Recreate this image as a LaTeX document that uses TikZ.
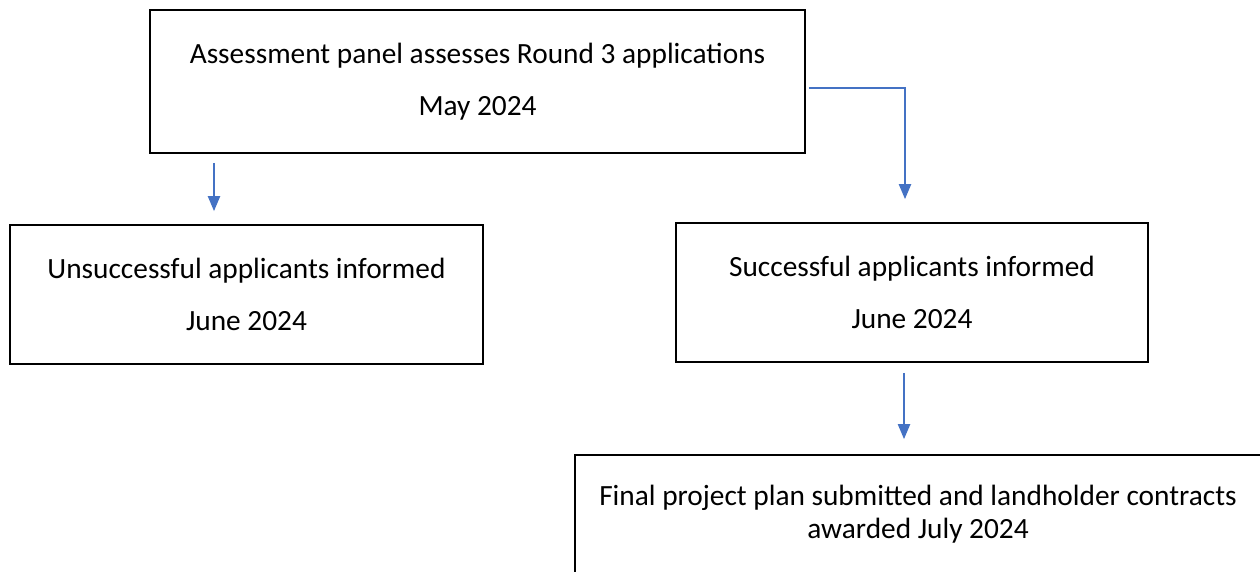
\documentclass[tikz,border=0pt]{standalone}
\usepackage{fontspec}
\setmainfont{Carlito}
\usetikzlibrary{arrows.meta}

\definecolor{linkblue}{HTML}{4472C4}

\begin{document}
\begin{tikzpicture}[
  x=0.02cm, y=-0.02cm,
  stage/.style={draw=black, line width=1.1pt, align=center, inner sep=0pt,
    font=\fontsize{16.7}{18.8}\selectfont},
  link/.style={draw=linkblue, line width=0.7pt,
    -{Triangle[width=7pt,length=8.5pt]}}
]
  \useasboundingbox (0,0) rectangle (1260,571);

  % Boxes
  \node[stage, minimum width=13.1cm, minimum height=2.86cm] (assess) at (477.5,81.5)
    {Assessment panel assesses Round 3 applications\\[11pt]May 2024};
  \node[stage, minimum width=9.46cm, minimum height=2.78cm] (unsucc) at (246.5,294.5)
    {Unsuccessful applicants informed\\[11pt]June 2024};
  \node[stage, minimum width=9.44cm, minimum height=2.78cm] (succ) at (912,292.5)
    {Successful applicants informed\\[11pt]June 2024};
  \node[stage, minimum width=13.72cm, minimum height=2.38cm] (final) at (918,514.5)
    {Final project plan submitted and landholder contracts\\awarded July 2024};

  % Arrows
  \coordinate (leftline) at (214,0);
  \coordinate (elbow) at (905,88);
  \coordinate (downline) at (904,0);

  \draw[link, shorten <=0.18cm, shorten >=0.26cm]
    (assess.south -| leftline) -- (unsucc.north -| leftline);
  \draw[link, shorten <=0.06cm, shorten >=0.46cm]
    (elbow -| assess.east) -- (elbow) -- (succ.north -| elbow);
  \draw[link, shorten <=0.2cm, shorten >=0.3cm]
    (succ.south -| downline) -- (final.north -| downline);
\end{tikzpicture}
\end{document}
